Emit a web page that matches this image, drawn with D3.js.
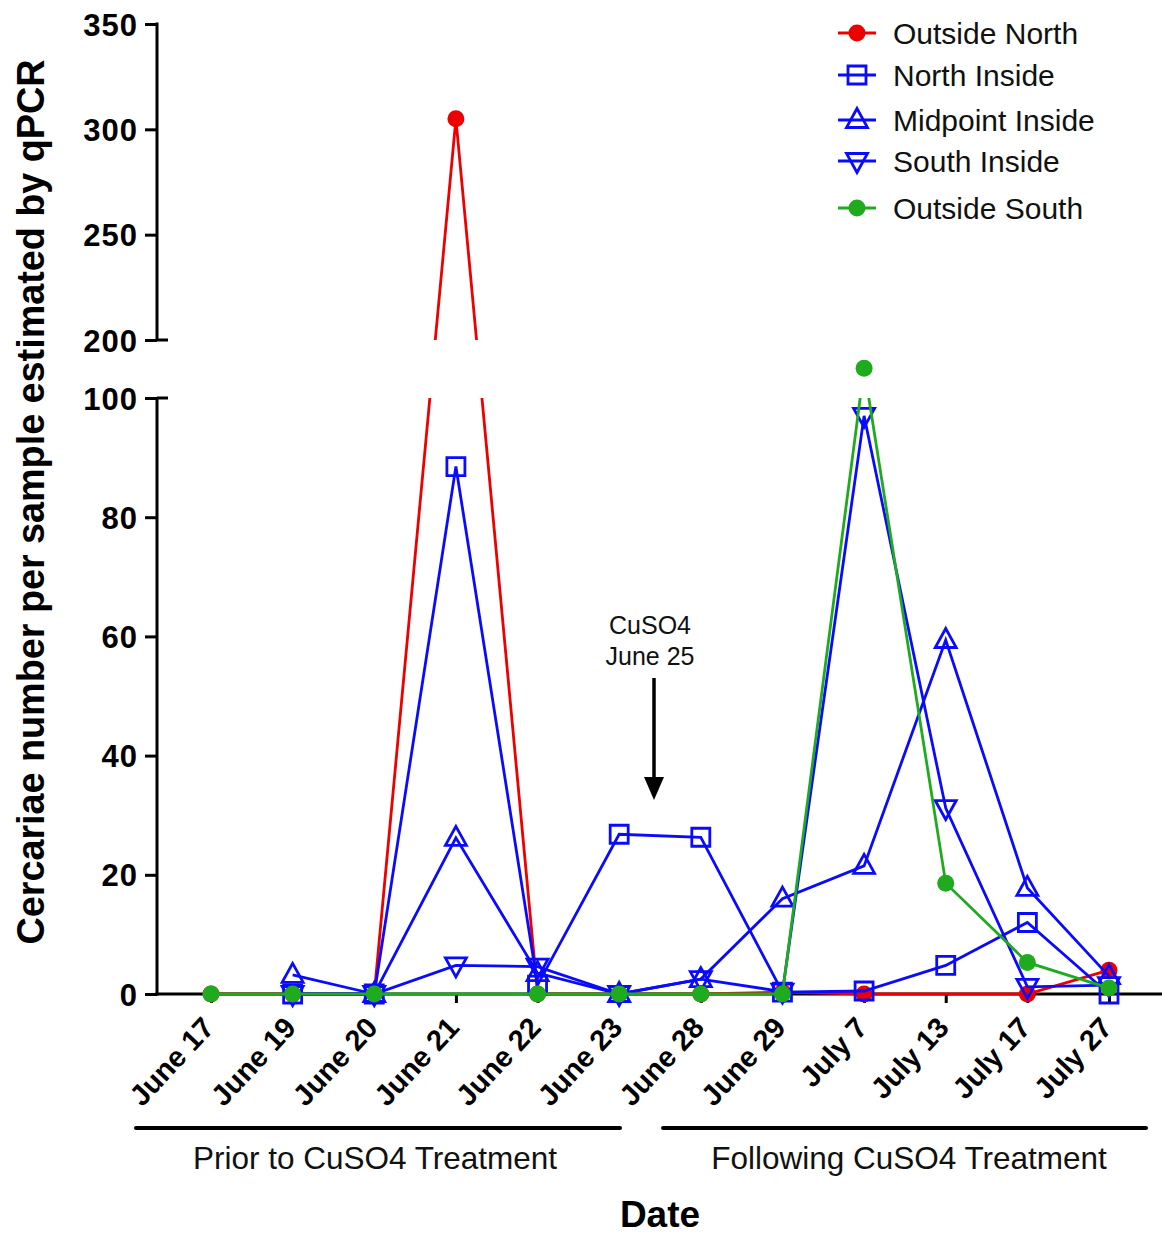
<!DOCTYPE html>
<html><head><meta charset="utf-8">
<script src="https://cdn.jsdelivr.net/npm/d3@7"></script>
<style>
html,body{margin:0;padding:0;background:#fff;}
svg{display:block;}
text{font-family:"Liberation Sans",Arial,sans-serif;}
</style></head>
<body>
<svg id="chart" width="1162" height="1235"></svg>
<script>
// ---------- data ----------
const dates = ["June 17","June 19","June 20","June 21","June 22","June 23","June 28","June 29","July 7","July 13","July 17","July 27"];
const outsideNorth = [0, 0, 0, 305, 0, 0, 0, 0.3, 0, null, 0, 4];
const northInside  = [null, 0, 0, 88.5, 1.5, 26.8, 26.3, 0.3, 0.5, 4.8, 12, 0];
const midpointInside = [null, 3.2, 0, 26.2, 3.5, 0, 2.5, 16, 21.5, 59.4, 17.8, 3];
const southInside  = [null, 0, 0, 4.8, 4.6, 0, 2.5, 0.4, 97, 31.2, 1.2, 1.5];
const outsideSouth = [0, 0, 0, null, 0, 0, 0, 0, 105, 18.6, 5.3, 1];
const seriesNames = ["Outside North","North Inside","Midpoint Inside","South Inside","Outside South"];
const lowerTicks = [0,20,40,60,80,100];
const upperTicks = [200,250,300,350];
const yTitle = "Cercariae number per sample estimated by qPCR";
const xTitle = "Date";
const periodLabels = ["Prior to CuSO4 Treatment","Following CuSO4 Treatment"];
const annotation = ["CuSO4","June 25"];

// ---------- setup ----------
const svg = d3.select("#chart");
const RED = "#ec0000", BLUE = "#0a0aff", GREEN = "#1faa1f";
const series = [
  {name: seriesNames[0], values: outsideNorth, color: RED, shape: "circle"},
  {name: seriesNames[1], values: northInside, color: BLUE, shape: "square"},
  {name: seriesNames[2], values: midpointInside, color: BLUE, shape: "up"},
  {name: seriesNames[3], values: southInside, color: BLUE, shape: "down"},
  {name: seriesNames[4], values: outsideSouth, color: GREEN, shape: "circle"}
];

const x = d3.scalePoint().domain(dates).range([211, 1109]);
const yLow = d3.scaleLinear().domain([0, 100]).range([994, 398]);
const yUp = d3.scaleLinear().domain([200, 350]).range([340, 24]);
const y = v => v > 200 ? yUp(v) : yLow(v);
const axisX = 157;

// clip path that hides the axis break gap
const defs = svg.append("defs");
const cp = defs.append("clipPath").attr("id", "gapclip");
cp.append("rect").attr("x", 0).attr("y", 0).attr("width", 1162).attr("height", 340);
cp.append("rect").attr("x", 0).attr("y", 398).attr("width", 1162).attr("height", 837);

// ---------- axes ----------
function styleAxis(g) {
  g.select(".domain").remove();
  g.selectAll(".tick line").attr("stroke", "#000").attr("stroke-width", 3);
  g.selectAll(".tick text").attr("fill", "#000")
    .style("font-family", "'Liberation Sans',Arial,sans-serif")
    .style("font-weight", "bold").style("font-size", "31px").style("letter-spacing", "1px");
}
const gLow = svg.append("g").attr("transform", `translate(${axisX},0)`)
  .call(d3.axisLeft(yLow).tickValues(lowerTicks).tickSize(12).tickSizeOuter(0).tickPadding(7));
styleAxis(gLow);
const gUp = svg.append("g").attr("transform", `translate(${axisX},0)`)
  .call(d3.axisLeft(yUp).tickValues(upperTicks).tickSize(12).tickSizeOuter(0).tickPadding(7));
styleAxis(gUp);
gLow.selectAll(".tick text").attr("dy", "0.36em");
gUp.selectAll(".tick text").attr("dy", "0.36em");

// axis spines
svg.append("line").attr("x1", axisX).attr("x2", axisX).attr("y1", yLow(100)).attr("y2", yLow(0) + 1.5)
  .attr("stroke", "#000").attr("stroke-width", 3);
svg.append("line").attr("x1", axisX).attr("x2", axisX).attr("y1", yUp(350) - 1.5).attr("y2", yUp(200))
  .attr("stroke", "#000").attr("stroke-width", 3);
// break caps extending right
[yLow(100), yUp(200)].forEach(yy => {
  svg.append("line").attr("x1", axisX).attr("x2", axisX + 11).attr("y1", yy).attr("y2", yy)
    .attr("stroke", "#000").attr("stroke-width", 3);
});

// x axis
const gx = svg.append("g").attr("transform", `translate(0,${yLow(0)})`)
  .call(d3.axisBottom(x).tickSize(9).tickSizeOuter(0).tickFormat(""));
gx.select(".domain").remove();
gx.selectAll(".tick line").attr("stroke", "#000").attr("stroke-width", 3);
svg.append("line").attr("x1", axisX - 1.5).attr("x2", 1162).attr("y1", yLow(0)).attr("y2", yLow(0))
  .attr("stroke", "#000").attr("stroke-width", 3);
// rotated x tick labels
svg.append("g").selectAll("text").data(dates).join("text")
  .attr("transform", d => `translate(${x(d) - 10},${yLow(0) + 21}) rotate(-47)`)
  .attr("text-anchor", "end").attr("dy", "0.7em")
  .style("font-weight", "bold").style("font-size", "29px").attr("fill", "#000")
  .text(d => d);

// ---------- series ----------
const line = d3.line().defined(d => d.v !== null).x(d => x(d.date)).y(d => y(d.v));
function markerPath(shape) {
  if (shape === "square") return "M-9,-9H9V9H-9Z";
  if (shape === "up") return "M0,-11.5L10.5,7.5L-10.5,7.5Z";
  if (shape === "down") return "M0,11.5L10.5,-7.5L-10.5,-7.5Z";
  return null;
}
function drawMarker(g, shape, color, cx, cy) {
  if (shape === "circle") {
    g.append("circle").attr("cx", cx).attr("cy", cy).attr("r", 8.5).attr("fill", color);
  } else {
    g.append("path").attr("d", markerPath(shape)).attr("transform", `translate(${cx},${cy})`)
      .attr("fill", "none").attr("stroke", color).attr("stroke-width", 2.8).attr("stroke-linejoin", "miter");
  }
}
series.forEach(s => {
  const pts = dates.map((d, i) => ({date: d, v: s.values[i]})).filter(p => p.v !== null);
  const g = svg.append("g");
  g.append("path").datum(pts).attr("d", line).attr("fill", "none")
    .attr("stroke", s.color).attr("stroke-width", 2.8).attr("clip-path", "url(#gapclip)");
  pts.forEach(p => drawMarker(g, s.shape, s.color, x(p.date), y(p.v)));
});

// ---------- legend ----------
const legendY = [33, 75, 120, 161, 208];
series.forEach((s, i) => {
  const g = svg.append("g");
  g.append("line").attr("x1", 838).attr("x2", 876).attr("y1", legendY[i]).attr("y2", legendY[i])
    .attr("stroke", s.color).attr("stroke-width", 2.8);
  drawMarker(g, s.shape, s.color, 857, legendY[i]);
  g.append("text").attr("x", 893).attr("y", legendY[i] + 10.5)
    .style("font-size", "30px").attr("fill", "#111").text(s.name);
});

// ---------- annotation ----------
svg.append("text").attr("x", 650).attr("y", 634).attr("text-anchor", "middle")
  .style("font-size", "25px").attr("fill", "#111").text(annotation[0]);
svg.append("text").attr("x", 650).attr("y", 665).attr("text-anchor", "middle")
  .style("font-size", "25px").attr("fill", "#111").text(annotation[1]);
svg.append("line").attr("x1", 654).attr("x2", 654).attr("y1", 678).attr("y2", 780)
  .attr("stroke", "#000").attr("stroke-width", 3.5);
svg.append("path").attr("d", "M644,777L664,777L654,800Z").attr("fill", "#000");

// ---------- period brackets ----------
svg.append("line").attr("x1", 136).attr("x2", 620).attr("y1", 1128).attr("y2", 1128)
  .attr("stroke", "#000").attr("stroke-width", 4).attr("stroke-linecap", "round");
svg.append("line").attr("x1", 663).attr("x2", 1146).attr("y1", 1128).attr("y2", 1128)
  .attr("stroke", "#000").attr("stroke-width", 4).attr("stroke-linecap", "round");
svg.append("text").attr("x", 375).attr("y", 1169).attr("text-anchor", "middle")
  .style("font-size", "31.5px").attr("fill", "#111").text(periodLabels[0]);
svg.append("text").attr("x", 909).attr("y", 1169).attr("text-anchor", "middle")
  .style("font-size", "31.5px").attr("fill", "#111").text(periodLabels[1]);

// ---------- titles ----------
svg.append("text").attr("x", 660).attr("y", 1227).attr("text-anchor", "middle")
  .style("font-size", "37px").style("font-weight", "bold").attr("fill", "#000").text(xTitle);
svg.append("text").attr("transform", "translate(44,502) rotate(-90)").attr("text-anchor", "middle")
  .style("font-family", "'Liberation Sans Narrow','Liberation Sans',Arial,sans-serif")
  .style("font-size", "38px").style("font-weight", "bold").attr("fill", "#000")
  .attr("textLength", 885).attr("lengthAdjust", "spacingAndGlyphs").text(yTitle);
</script>
</body></html>
